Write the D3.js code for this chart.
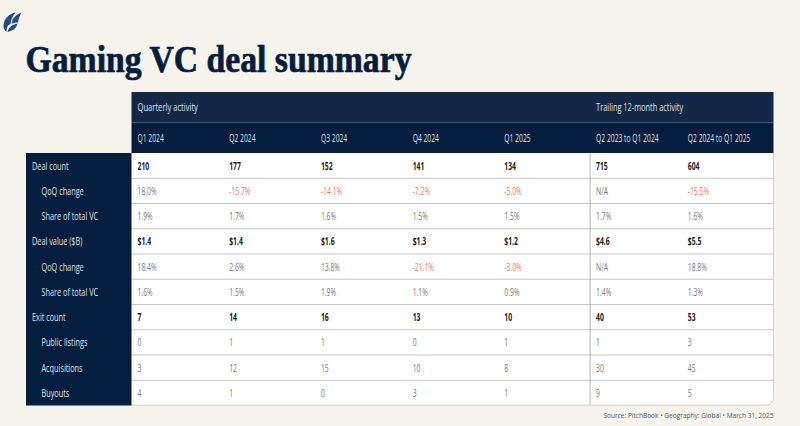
<!DOCTYPE html>
<html>
<head>
<meta charset="utf-8">
<script src="https://cdn.jsdelivr.net/npm/d3@7"></script>
<style>
  html, body { margin: 0; padding: 0; background: #f7f4ee; }
  svg { display: block; }
  text { font-family: "Open Sans", sans-serif; }
</style>
</head>
<body>
<div id="chart"></div>
<script>
// table content
var columns = ["Q1 2024", "Q2 2024", "Q3 2024", "Q4 2024", "Q1 2025", "Q2 2023 to Q1 2024", "Q2 2024 to Q1 2025"];
var rowLabels = ["Deal count", "QoQ change", "Share of total VC", "Deal value ($B)", "QoQ change", "Share of total VC", "Exit count", "Public listings", "Acquisitions", "Buyouts"];
var boldRows = [0, 3, 6];

var dealCount = ["210", "177", "152", "141", "134", "715", "604"];
var dealCountQoq = ["18.0%", "-15.7%", "-14.1%", "-7.2%", "-5.0%", "N/A", "-15.5%"];
var dealCountShare = ["1.9%", "1.7%", "1.6%", "1.5%", "1.5%", "1.7%", "1.6%"];
var dealValue = ["$1.4", "$1.4", "$1.6", "$1.3", "$1.2", "$4.6", "$5.5"];
var dealValueQoq = ["18.4%", "2.6%", "13.8%", "-21.1%", "-3.0%", "N/A", "18.8%"];
var dealValueShare = ["1.6%", "1.5%", "1.9%", "1.1%", "0.9%", "1.4%", "1.3%"];
var exitCount = ["7", "14", "16", "13", "10", "40", "53"];
var publicListings = ["0", "1", "1", "0", "1", "1", "3"];
var acquisitions = ["3", "12", "15", "10", "8", "30", "45"];
var buyouts = ["4", "1", "0", "3", "1", "9", "5"];

var rows = [dealCount, dealCountQoq, dealCountShare, dealValue, dealValueQoq, dealValueShare, exitCount, publicListings, acquisitions, buyouts];

var navy = "#051e3f", navyLight = "#142747";

var svg = d3.select("#chart").append("svg")
  .attr("width", 800)
  .attr("height", 426);

svg.append("rect").attr("width", 800).attr("height", 426).attr("fill", "#f7f4ee");

// no narrow font here, so squeeze the text horizontally
function squeeze(sel, factor) {
  sel.each(function () {
    var w = this.getComputedTextLength();
    d3.select(this)
      .attr("textLength", w * factor)
      .attr("lengthAdjust", "spacingAndGlyphs");
  });
}

// logo
var logo = svg.append("g").attr("fill", "#1f4e7e");
logo.append("path").attr("d", "M3.5 27 C3 20 8 14 15.5 12.5 C12.5 16 11 20 10.5 24 L8 25.5 C7 27.5 6.5 29.5 6.5 32 C5 31 4 29 3.5 27 Z");
logo.append("path").attr("d", "M11.5 24 C12 19 15 15 21.5 12.5 C19.5 16 18.5 19 18 22.5 C15 22.5 13 23 11.5 24 Z");
logo.append("path").attr("d", "M7.5 32 C8 28 12 24.5 17.5 23.5 C16.5 27.5 14 30.5 7.5 32 Z");

svg.append("text")
  .attr("x", 25.5)
  .attr("y", 71.5)
  .attr("fill", navy)
  .attr("stroke", navy)
  .attr("stroke-width", 0.7)
  .style("font-family", "'Liberation Serif', serif")
  .style("font-weight", "bold")
  .style("font-size", "37px")
  .attr("textLength", 386)
  .attr("lengthAdjust", "spacingAndGlyphs")
  .text("Gaming VC deal summary");

// scales
var x = d3.scaleBand().domain(d3.range(columns.length)).range([131.5, 773.5]);
var y = d3.scaleBand().domain(d3.range(rows.length)).range([153, 405.5]);
var textX = function (i) { return x(i) + 6; };
var rowY = function (i) { return y(i) + y.bandwidth() / 2 + 4; };

// header
svg.append("rect").attr("x", 131.5).attr("y", 92).attr("width", 642).attr("height", 30.5).attr("fill", navyLight);
svg.append("rect").attr("x", 131.5).attr("y", 122.5).attr("width", 642).attr("height", 30.5).attr("fill", navy);

var headStyle = function (s) {
  s.attr("fill", "#dfe3ea").style("font-size", "10px");
};
svg.append("text").attr("x", textX(0)).attr("y", 110.8).text("Quarterly activity").call(headStyle).call(squeeze, 0.76);
svg.append("text").attr("x", textX(5)).attr("y", 110.8).text("Trailing 12-month activity").call(headStyle).call(squeeze, 0.74);

svg.selectAll("text.col").data(columns).enter().append("text")
  .attr("class", "col")
  .attr("x", function (d, i) { return textX(i); })
  .attr("y", 141.8)
  .text(function (d) { return d; })
  .call(headStyle)
  .call(squeeze, 0.675);

// body background, right corner rounded
svg.append("path")
  .attr("d", "M131.5 153 H773.5 V397 Q773.5 405 765.5 405 H131.5 Z")
  .attr("fill", "#ffffff");

// row lines
svg.selectAll("line.row").data(d3.range(1, rows.length)).enter().append("line")
  .attr("class", "row")
  .attr("x1", 131.5).attr("x2", 773.5)
  .attr("y1", function (d) { return y(d); })
  .attr("y2", function (d) { return y(d); })
  .attr("stroke", "#c6c6c6")
  .attr("stroke-width", 1.1);

svg.append("path")
  .attr("d", "M131.5 405.2 H765.5 Q773.5 405.2 773.5 397 V153")
  .attr("fill", "none")
  .attr("stroke", "#cfcfcc")
  .attr("stroke-width", 1);

// divider between quarterly and trailing
svg.append("line")
  .attr("x1", x(5)).attr("x2", x(5))
  .attr("y1", 153).attr("y2", 405)
  .attr("stroke", "#b4b4b4")
  .attr("stroke-width", 1);

// left column
svg.append("rect").attr("x", 26).attr("y", 153).attr("width", 105.5).attr("height", 252.5).attr("fill", navy);

svg.selectAll("text.label").data(rowLabels).enter().append("text")
  .attr("class", "label")
  .attr("x", function (d, i) { return boldRows.indexOf(i) >= 0 ? 32 : 41.5; })
  .attr("y", function (d, i) { return rowY(i); })
  .attr("fill", "#dfe3ea")
  .style("font-size", "10px")
  .text(function (d) { return d; })
  .call(squeeze, 0.73);

// cells
var rowG = svg.selectAll("g.tr").data(rows).enter().append("g")
  .attr("class", "tr")
  .attr("transform", function (d, i) { return "translate(0," + rowY(i) + ")"; });

rowG.each(function (vals, r) {
  var bold = boldRows.indexOf(r) >= 0;
  d3.select(this).selectAll("text").data(vals).enter().append("text")
    .attr("x", function (d, i) { return textX(i); })
    .attr("fill", function (d) {
      if (bold) return "#1b1b1b";
      return d.charAt(0) === "-" ? "#e8795c" : "#777777";
    })
    .style("font-size", "10px")
    .style("font-weight", bold ? "bold" : "normal")
    .text(function (d) { return d; })
    .call(squeeze, 0.68);
});

svg.append("text")
  .attr("x", 603.5)
  .attr("y", 418)
  .attr("fill", "#55585c")
  .style("font-size", "7.5px")
  .attr("textLength", 170)
  .attr("lengthAdjust", "spacingAndGlyphs")
  .text("Source: PitchBook  •  Geography: Global  •  March 31, 2025");
</script>
</body>
</html>
